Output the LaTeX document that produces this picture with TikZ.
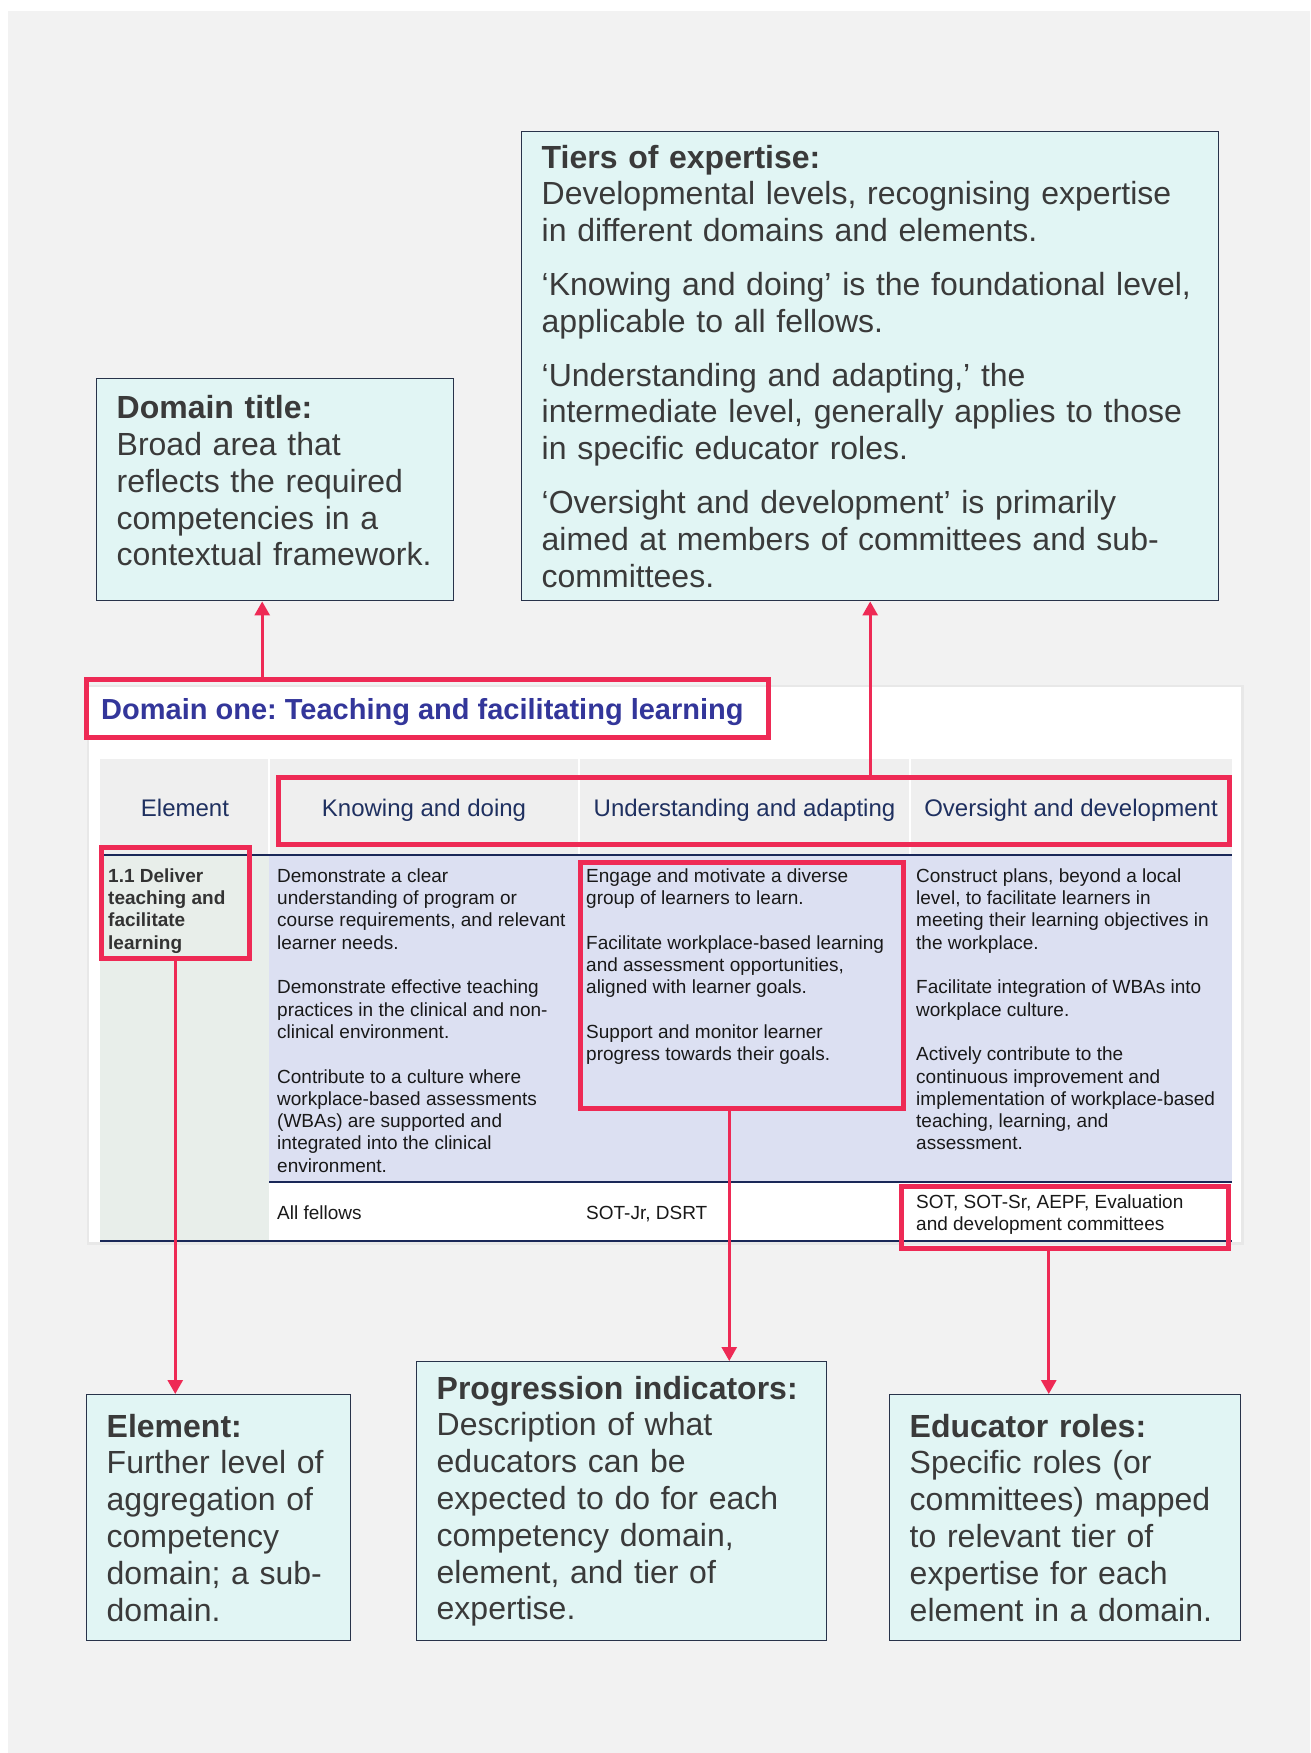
\documentclass[tikz,border=0pt]{standalone}
\usepackage{fontspec}
\setmainfont{Liberation Sans}
\usepackage{xcolor}
\usetikzlibrary{arrows.meta,positioning}
\pgfdeclarelayer{background}
\pgfsetlayers{background,main}
\frenchspacing

\definecolor{pagegrey}{HTML}{F2F2F2}
\definecolor{calloutfill}{HTML}{E1F5F4}
\definecolor{calloutline}{HTML}{28334A}
\definecolor{hlred}{HTML}{EE2A55}
\definecolor{titleblue}{HTML}{33369A}
\definecolor{headnavy}{HTML}{1F3060}
\definecolor{headgrey}{HTML}{EFEFEF}
\definecolor{elemgreen}{HTML}{E8EEEA}
\definecolor{bodylav}{HTML}{DCE0F2}
\definecolor{rulenavy}{HTML}{1A2858}
\definecolor{inktext}{HTML}{3A3A3A}

\tikzset{
  callout/.style={draw=calloutline, line width=1.4pt, fill=calloutfill, anchor=north west,
    inner xsep=20pt, inner ysep=0pt, align=left, text=inktext,
    font=\fontsize{32}{36.8}\selectfont},
  hl/.style={draw=hlred, line width=4.5pt, anchor=north west, inner sep=0pt},
  colhead/.style={anchor=base, inner sep=0pt, text=headnavy, font=\fontsize{24}{28}\selectfont},
  cell/.style={anchor=north west, align=left, inner sep=0pt, text=black!90,
    font=\fontsize{19}{22.3}\selectfont},
  arr/.style={hlred, line width=2.8pt},
}

\begin{document}
\begin{tikzpicture}[x=1pt, y=-1pt, >={Triangle[width=15pt,length=14pt]}]
  \useasboundingbox (0,0) rectangle (1310,1753);

  \begin{pgfonlayer}{background}
    \fill[white] (0,0) rectangle (1310,1753);
    \fill[pagegrey] (8,11) rectangle (1310,1753);
    \fill[black!9] (87,685) rectangle (1244,1245);
    \fill[white] (89,687) rectangle (1241,1242);
    \fill[headgrey] (100,759) rectangle (1232,855);
    \fill[elemgreen] (100,855) rectangle (269,1241);
    \fill[bodylav] (269,855) rectangle (1232,1182);
    \foreach \x in {269,579,910}
      \draw[white, line width=1.5pt] (\x,759) -- (\x,855);
    \draw[rulenavy, line width=1.3pt] (100,855) -- (1232,855);
    \draw[rulenavy, line width=2pt] (269,1182) -- (1232,1182);
    \draw[rulenavy, line width=2pt] (100,1241) -- (1232,1241);
  \end{pgfonlayer}

  \node (title) [anchor=base west, inner sep=0pt, text=titleblue,
    font=\bfseries\fontsize{29}{34}\selectfont] at (101,719)
    {Domain one: Teaching and facilitating learning};

  \node (hdelem) [colhead] at (185,816) {Element};
  \node (hdkd) [colhead] at (424,816) {Knowing and doing};
  \node (hdua) [colhead] at (744.5,816) {Understanding and adapting};
  \node (hdod) [colhead] at (1071,816) {Oversight and development};

  \node (elcell) [cell, text=black!80, font=\bfseries\fontsize{19}{22.3}\selectfont] at (108,868.4)
    {1.1 Deliver\\teaching and\\facilitate\\learning};
  \node (kdcell) [cell] at (277,868.4)
    {Demonstrate a clear\\understanding of program or\\course requirements, and relevant\\learner needs.\\[22.3pt]
     Demonstrate effective teaching\\practices in the clinical and non-\\clinical environment.\\[22.3pt]
     Contribute to a culture where\\workplace-based assessments\\(WBAs) are supported and\\integrated into the clinical\\environment.};
  \node (uacell) [cell] at (586,868.4)
    {Engage and motivate a diverse\\group of learners to learn.\\[22.3pt]
     Facilitate workplace-based learning\\and assessment opportunities,\\aligned with learner goals.\\[22.3pt]
     Support and monitor learner\\progress towards their goals.};
  \node (odcell) [cell] at (916,868.4)
    {Construct plans, beyond a local\\level, to facilitate learners in\\meeting their learning objectives in\\the workplace.\\[22.3pt]
     Facilitate integration of WBAs into\\workplace culture.\\[22.3pt]
     Actively contribute to the\\continuous improvement and\\implementation of workplace-based\\teaching, learning, and\\assessment.};

  \node (kdrole) [cell, anchor=base west] at (277,1219.5) {All fellows};
  \node (uarole) [cell, anchor=base west] at (586,1219.5) {SOT-Jr, DSRT};
  \node (odrole) [cell] at (916,1194.4) {SOT, SOT-Sr, AEPF, Evaluation\\and development committees};

  \node (hltitle) [hl, minimum width=682pt, minimum height=58pt] at (84,677) {};
  \node (hlhead) [hl, minimum width=951pt, minimum height=67pt] at (276,775) {};
  \node (hlelem) [hl, minimum width=148pt, minimum height=111pt] at (99,845) {};
  \node (hlua) [hl, minimum width=323pt, minimum height=246pt] at (578,860) {};
  \node (hlroles) [hl, minimum width=327pt, minimum height=62pt] at (899,1184) {};

  \node (dtitle) [callout, minimum width=357pt, minimum height=222pt, text width=317pt] at (96,378)
    {\textbf{Domain title:}\\Broad area that\\reflects the required\\competencies in a\\contextual framework.\\[-18.8pt]\mbox{}};
  \node (tiers) [callout, minimum width=697pt, minimum height=469pt, text width=657pt] at (521,131)
    {\textbf{Tiers of expertise:}\\Developmental levels, recognising expertise\\in different domains and elements.\\[17pt]
     ‘Knowing and doing’ is the foundational level,\\applicable to all fellows.\\[17pt]
     ‘Understanding and adapting,’ the\\intermediate level, generally applies to those\\in specific educator roles.\\[17pt]
     ‘Oversight and development’ is primarily\\aimed at members of committees and sub-\\committees.};
  \node (elem) [callout, minimum width=264pt, minimum height=246pt, text width=224pt] at (86,1394)
    {\textbf{Element:}\\Further level of\\aggregation of\\competency\\domain; a sub-\\domain.};
  \node (prog) [callout, minimum width=410pt, minimum height=279pt, text width=370pt] at (416,1361)
    {\textbf{Progression indicators:}\\Description of what\\educators can be\\expected to do for each\\competency domain,\\element, and tier of\\expertise.};
  \node (roles) [callout, minimum width=351pt, minimum height=246pt, text width=311pt] at (889,1394)
    {\textbf{Educator roles:}\\Specific roles (or\\committees) mapped\\to relevant tier of\\expertise for each\\element in a domain.};

  \coordinate (dtfoot) at ([xshift=-13pt]dtitle.south);
  \coordinate (uafoot) at ([xshift=-12.5pt]hlua.south);
  \coordinate (rolefoot) at ([xshift=-16pt]hlroles.south);
  \draw[->, arr] (dtfoot |- hltitle.north) to (dtfoot);
  \draw[->, arr] (tiers.south |- hlhead.north) to (tiers.south);
  \draw[->, arr] (hlelem.south) to (hlelem.south |- elem.north);
  \draw[->, arr] (uafoot) to (uafoot |- prog.north);
  \draw[->, arr] (rolefoot) to (rolefoot |- roles.north);
\end{tikzpicture}
\end{document}
